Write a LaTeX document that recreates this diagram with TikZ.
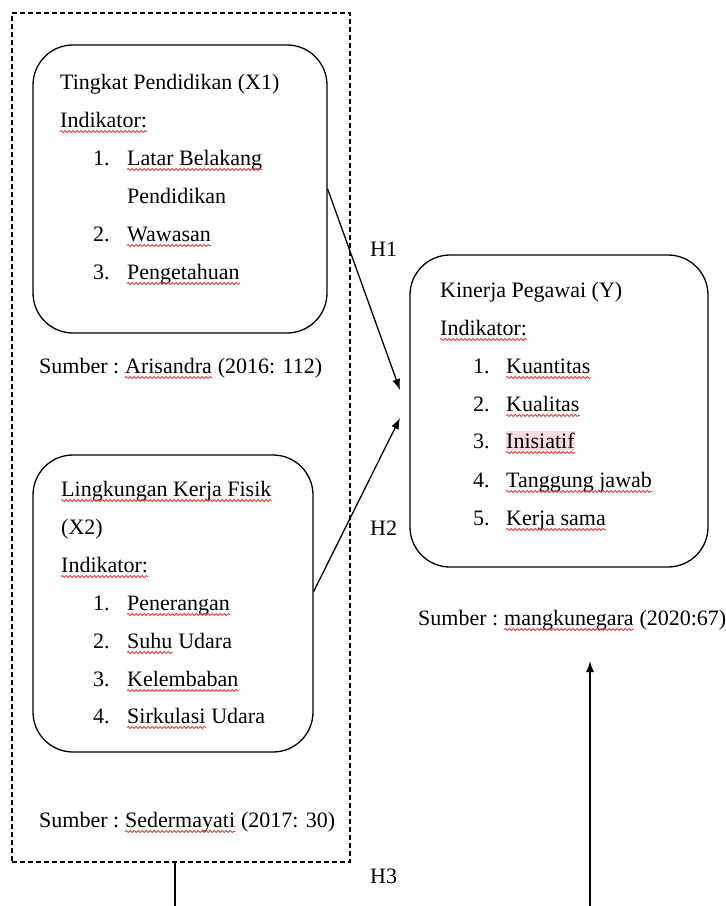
\documentclass[tikz,border=0pt]{standalone}
\usepackage{fontspec}
\setmainfont{Liberation Serif}
\usetikzlibrary{arrows.meta,positioning,decorations.pathmorphing}

\definecolor{squig}{HTML}{E8383D}
\definecolor{hlpink}{HTML}{F9DCE0}

\tikzset{
  varbox/.style={draw, line width=1.3pt, rounded corners=40pt, inner sep=0pt},
  grpbox/.style={draw, line width=1.2pt, dash pattern=on 5pt off 3pt, inner sep=0pt},
  txt/.style={anchor=base west, inner sep=0pt, font=\fontsize{22}{26}\selectfont},
  link/.style={line width=1.3pt, -{Latex[length=11pt,width=8pt]}},
  plain/.style={line width=1.3pt},
  squiggle/.style={squig, line width=0.8pt, decorate, decoration={snake, amplitude=1pt, segment length=4pt}},
}

\begin{document}
\begin{tikzpicture}[x=1pt,y=-1pt, node distance=5.5pt]
        \useasboundingbox (0,0) rectangle (726,906);

        % Dashed group round X1 and X2
        \node (grp) at (181,437.5) [grpbox, minimum width=338pt, minimum height=849pt] {};

        % X1 box
        \node (x1) at (180,189) [varbox, minimum width=294pt, minimum height=288pt] {};
        \node (x1t) at (60,89) [txt] {Tingkat Pendidikan (X1)};
        \node (x1i) at (60,127) [txt] {Indikator:};
        \node (x1n1) at (93,165) [txt] {1.};
        \node (x1a) at (127,165) [txt] {Latar Belakang};
        \node (x1a2) at (127,203) [txt] {Pendidikan};
        \node (x1n2) at (93,241) [txt] {2.};
        \node (x1b) at (127,241) [txt] {Wawasan};
        \node (x1n3) at (93,279) [txt] {3.};
        \node (x1c) at (127,279) [txt] {Pengetahuan};
        \node (src1) at (39,373) [txt] {Sumber :};
        \node (src1a) [txt, base right=of src1] {Arisandra};
        \node (src1b) [txt, base right=of src1a] {(2016: 112)};

        % X2 box
        \node (x2) at (173,603.5) [varbox, minimum width=280pt, minimum height=297pt] {};
        \node (x2t) at (61,496) [txt] {Lingkungan Kerja Fisik};
        \node (x2t2) at (61,534) [txt] {(X2)};
        \node (x2i) at (61,572) [txt] {Indikator:};
        \node (x2n1) at (93,610) [txt] {1.};
        \node (x2a) at (127,610) [txt] {Penerangan};
        \node (x2n2) at (93,648) [txt] {2.};
        \node (x2b) at (127,648) [txt] {Suhu};
        \node (x2b2) [txt, base right=of x2b] {Udara};
        \node (x2n3) at (93,686) [txt] {3.};
        \node (x2c) at (127,686) [txt] {Kelembaban};
        \node (x2n4) at (93,723) [txt] {4.};
        \node (x2d) at (127,723) [txt] {Sirkulasi};
        \node (x2d2) [txt, base right=of x2d] {Udara};
        \node (src2) at (39,827) [txt] {Sumber :};
        \node (src2a) [txt, base right=of src2] {Sedermayati};
        \node (src2b) [txt, base right=of src2a] {(2017: 30)};

        % Y box
        \node (y) at (559,411) [varbox, minimum width=298pt, minimum height=312pt] {};
        \node (yt) at (440,297) [txt] {Kinerja Pegawai (Y)};
        \node (yi) at (440,335) [txt] {Indikator:};
        \node (yn1) at (473,373) [txt] {1.};
        \node (ya) at (506,373) [txt] {Kuantitas};
        \node (yn2) at (473,411) [txt] {2.};
        \node (yb) at (506,411) [txt] {Kualitas};
        \node (yn3) at (473,448) [txt] {3.};
        \node (yc) at (506,448) [txt, fill=hlpink, inner ysep=2pt] {Inisiatif};
        \node (yn4) at (473,487) [txt] {4.};
        \node (yd) at (506,487) [txt] {Tanggung jawab};
        \node (yn5) at (473,525) [txt] {5.};
        \node (ye) at (506,525) [txt] {Kerja sama};
        \node (srcy) at (418,625) [txt] {Sumber :};
        \node (srcya) [txt, base right=of srcy] {mangkunegara};
        \node (srcyb) [txt, base right=of srcya] {(2020:67)};

        % Spelling marks
        \foreach \w in {x1i,x1a,x1b,x1c,src1a,x2t,x2i,x2a,x2b,x2c,x2d,src2a,yi,ya,yb,yc,yd,ye,srcya}
          \draw[squiggle] ([yshift=-4.5pt]\w.base west) -- ([yshift=-4.5pt]\w.base east);

        % Hypothesis labels
        \node (h1) at (370,256) [txt] {H1};
        \node (h2) at (370,535) [txt] {H2};
        \node (h3) at (370,883) [txt] {H3};

        % Connectors
        \coordinate (h1end) at (400,390);
        \coordinate (h2end) at (400,418);
        \coordinate (h3a) at (175,906);
        \coordinate (h3b) at (590,906);
        \coordinate (yin) at (590,661);
        \draw[link] (x1.east) -- (h1end);
        \draw[link] ([yshift=12pt]x2.east) -- (h2end);
        \draw[plain] ([xshift=-6pt]grp.south) -- (h3a);
        \draw[link] (h3b) -- (yin);
      \end{tikzpicture}
\end{document}
